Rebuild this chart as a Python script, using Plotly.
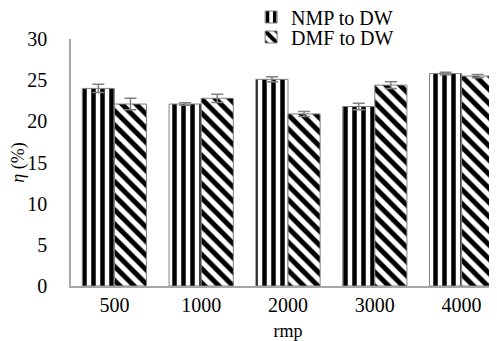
import plotly.graph_objects as go

categories = ["500", "1000", "2000", "3000", "4000"]
nmp_values = [24.0, 22.1, 25.1, 21.8, 25.8]
nmp_errors = [0.5, 0.15, 0.3, 0.4, 0.15]
dmf_values = [22.1, 22.8, 20.9, 24.4, 25.5]
dmf_errors = [0.7, 0.5, 0.3, 0.4, 0.2]
y_ticks = [0, 5, 10, 15, 20, 25, 30]

font_family = "Liberation Serif, Times New Roman, serif"

fig = go.Figure()
fig.add_trace(go.Bar(
    name="NMP to DW", x=categories, y=nmp_values, legend="legend",
    error_y=dict(type="data", array=nmp_errors, color="#808080", thickness=1.5, width=6),
    marker=dict(color="white", line=dict(color="#808080", width=1),
                pattern=dict(shape="|", fgcolor="black", bgcolor="white", fgopacity=1,
                             size=9, solidity=0.5)),
))
fig.add_trace(go.Bar(
    name="DMF to DW", x=categories, y=dmf_values, legend="legend2",
    error_y=dict(type="data", array=dmf_errors, color="#808080", thickness=1.5, width=6),
    marker=dict(color="white", line=dict(color="#808080", width=1),
                pattern=dict(shape="\\", fgcolor="black", bgcolor="white", fgopacity=1,
                             size=10, solidity=0.5)),
))

H = 278  # plot-paper height in px
legend_common = dict(xanchor="left", yanchor="middle", bgcolor="rgba(0,0,0,0)",
                     font=dict(size=20), itemwidth=30)

fig.update_layout(
    width=497, height=341,
    margin=dict(l=63, r=0, t=0, b=63, autoexpand=False),
    paper_bgcolor="white", plot_bgcolor="white",
    barmode="group", bargap=0.26, bargroupgap=0,
    font=dict(family=font_family, size=20, color="black"),
    showlegend=True,
    legend=dict(x=0.415, y=(H - 9) / H, **legend_common),
    legend2=dict(x=0.415, y=(H - 29) / H, **legend_common),
    xaxis=dict(range=[-0.5, 4.5], showline=True, linecolor="#a6a6a6", linewidth=1.5,
               ticks="", showgrid=False, zeroline=False, automargin=False,
               title=dict(text="rmp", standoff=10, font=dict(size=18))),
    yaxis=dict(domain=[0, (H - 31) / H], range=[0, 30], tickvals=y_ticks, showline=True,
               linecolor="#a6a6a6", linewidth=1.5, automargin=False,
               ticks="", showgrid=False, zeroline=False, ticklabelstandoff=18,
               title=dict(text="<i>η</i> (%)", standoff=5, font=dict(size=18))),
)

fig.write_html("out.html")
